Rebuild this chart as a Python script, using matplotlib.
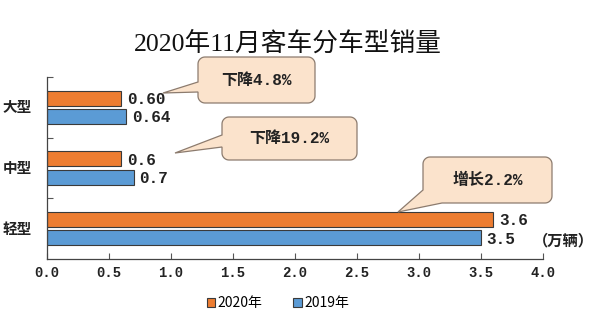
import numpy as np
import matplotlib
matplotlib.use('Agg')
import matplotlib.pyplot as plt
import matplotlib.transforms as mtransforms
from matplotlib.patches import Patch, Polygon

plt.rcParams['font.family'] = ['Noto Sans CJK SC', 'DejaVu Sans']

# 数据（万辆）
categories = ['轻型', '中型', '大型']
sales_2020 = [3.6, 0.6, 0.60]
sales_2019 = [3.5, 0.7, 0.64]
labels_2020 = ['3.6', '0.6', '0.60']
labels_2019 = ['3.5', '0.7', '0.64']
series_names = ['2020年', '2019年']
xtick_values = [0.0, 0.5, 1.0, 1.5, 2.0, 2.5, 3.0, 3.5, 4.0]
callout_texts = ['下降4.8%', '下降19.2%', '增长2.2%']

ORANGE = '#ED7D31'
BLUE = '#5B9BD5'
EDGE = '#3A3A3A'
MONO = ['Liberation Mono', 'Noto Sans CJK SC']

W, H = 600, 331
fig = plt.figure(figsize=(W / 100, H / 100), dpi=100)
fig.patch.set_facecolor('white')

# 坐标轴区域（像素：左47 右543 上77 下259）
ax = fig.add_axes([47 / W, (H - 259) / H, 496 / W, 182 / H])
y = np.arange(len(categories))
h = 0.25
ax.barh(y + 0.15, sales_2020, height=h, color=ORANGE, edgecolor=EDGE, linewidth=0.8)
ax.barh(y - 0.15, sales_2019, height=h, color=BLUE, edgecolor=EDGE, linewidth=0.8)

for yi, v, s in zip(y, sales_2020, labels_2020):
    ax.annotate(s, (v, yi + 0.15), xytext=(4, -1), textcoords='offset points',
                va='center', ha='left', fontsize=11.5, family=MONO, weight='bold',
                color='#222222')
for yi, v, s in zip(y, sales_2019, labels_2019):
    ax.annotate(s, (v, yi - 0.15), xytext=(4, -1), textcoords='offset points',
                va='center', ha='left', fontsize=11.5, family=MONO, weight='bold',
                color='#222222')

ax.set_xlim(0, 4)
ax.set_ylim(-0.5, 2.5)
ax.set_xticks(xtick_values)
ax.set_xticklabels([f'{v:.1f}' for v in xtick_values], family=MONO, fontsize=10,
                   weight='bold', color='#222222')
ax.set_yticks([0.5, 1.5, 2.5])
ax.set_yticklabels([])
ax.tick_params(direction='in', length=4, color='#555555', pad=5)
for side in ['top', 'right']:
    ax.spines[side].set_visible(False)
for side in ['left', 'bottom']:
    ax.spines[side].set_color('#444444')
    ax.spines[side].set_linewidth(0.9)

for yi, c in zip(y, categories):
    ax.text(-0.06, yi, c, transform=ax.get_yaxis_transform(),
            ha='center', va='center', fontsize=10.5, weight='bold', color='#222222')

# 像素坐标（左上原点）转换到图坐标
px = mtransforms.Affine2D().scale(1 / W, 1 / H) + fig.transFigure


def callout_outline(x0, y0, x1, y1, base_a, base_b, tip, r=7, n=10):
    # 转为左下原点
    Y0, Y1 = H - y1, H - y0
    corners = [((x1 - r, Y1 - r), 0, 90), ((x0 + r, Y1 - r), 90, 180),
               ((x0 + r, Y0 + r), 180, 270), ((x1 - r, Y0 + r), 270, 360)]
    pts = []
    for (cx, cy), a0, a1 in corners:
        t = np.radians(np.linspace(a0, a1, n))
        pts.extend(zip(cx + r * np.cos(t), cy + r * np.sin(t)))
    dense = []
    for i in range(len(pts)):
        p, q = np.array(pts[i]), np.array(pts[(i + 1) % len(pts)])
        k = max(int(np.hypot(*(q - p))), 1)
        for j in range(k):
            dense.append(p + (q - p) * j / k)
    dense = np.array(dense)
    A = np.array([base_a[0], H - base_a[1]])
    B = np.array([base_b[0], H - base_b[1]])
    ia = int(np.argmin(np.hypot(*(dense - A).T)))
    ib = int(np.argmin(np.hypot(*(dense - B).T)))
    ia, ib = min(ia, ib), max(ia, ib)
    T = np.array([tip[0], H - tip[1]])
    return np.vstack([dense[:ia + 1], T, dense[ib:]])


callout_boxes = [
    ((198, 57, 315, 103), (198, 82), (198, 92), (163, 93)),
    ((222, 117, 357, 160), (222, 135), (222, 147), (175, 153)),
    ((423, 157, 552, 203), (423, 190), (442, 203), (398, 212)),
]
for text, (box, ba, bb, tip) in zip(callout_texts, callout_boxes):
    outline = callout_outline(*box, ba, bb, tip)
    fig.add_artist(Polygon(outline, closed=True, transform=px, facecolor='#FBE3CC',
                           edgecolor='#8C7B6E', linewidth=0.9, zorder=5))
    cx = (box[0] + box[2]) / 2
    cy = H - (box[1] + box[3]) / 2
    fig.text(cx / W, cy / H, text, ha='center', va='center', fontsize=11.5,
             family=MONO, weight='bold', color='#222222', zorder=6)

fig.text(288 / W, (H - 43) / H, '2020年11月客车分车型销量', ha='center', va='center',
         fontsize=18.5, family=['Liberation Serif', 'Noto Sans CJK SC'], color='#111111')
fig.text(563 / W, (H - 240) / H, '（万辆）', ha='center', va='center', fontsize=11,
         weight='bold', color='#222222')

handles = [Patch(facecolor=ORANGE, edgecolor=EDGE, linewidth=0.8),
           Patch(facecolor=BLUE, edgecolor=EDGE, linewidth=0.8)]
fig.legend(handles, series_names, loc='center', bbox_to_anchor=(278 / W, (H - 303) / H),
           ncol=2, frameon=False, fontsize=10, handlelength=0.6, handleheight=0.6,
           handletextpad=0.2, columnspacing=2.2)

fig.savefig('out.png', dpi=100, facecolor='white')
